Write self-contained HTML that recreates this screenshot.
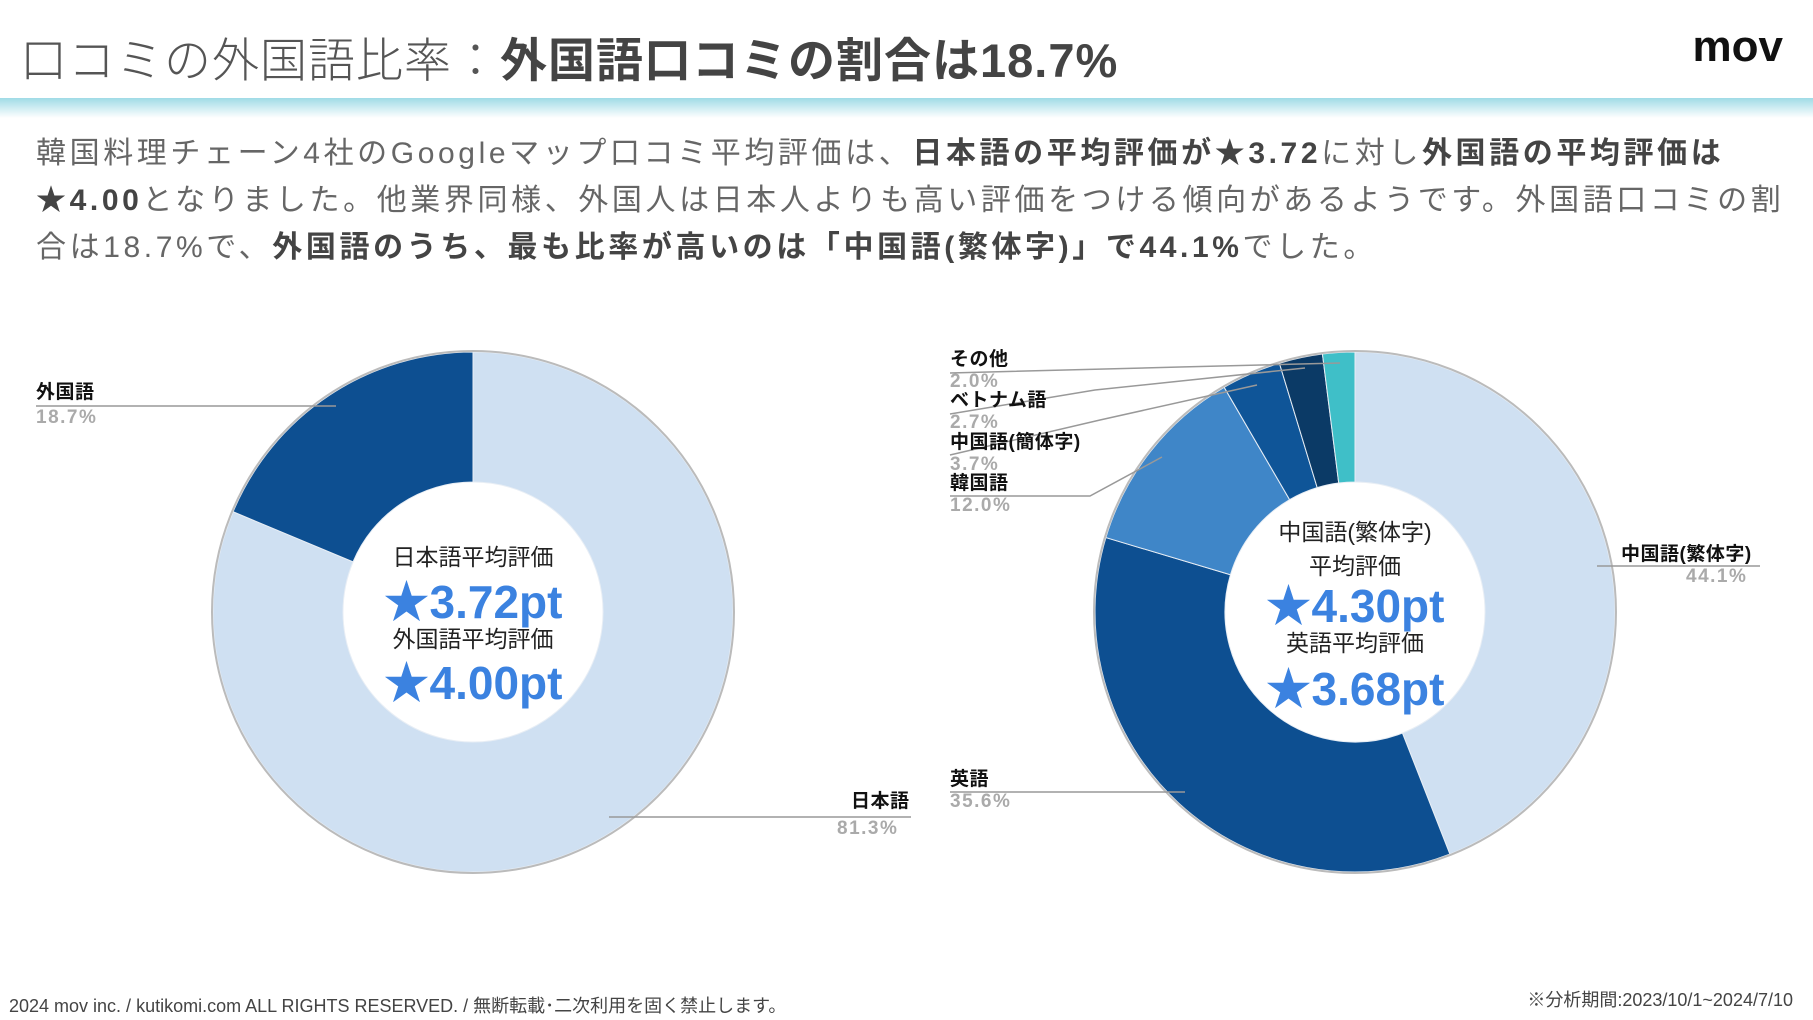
<!DOCTYPE html>
<html><head><meta charset="utf-8">
<style>
body{margin:0;width:1813px;height:1020px;background:#fff;overflow:hidden;font-family:"Liberation Sans","Noto Sans CJK JP",sans-serif;position:relative}
.abs{position:absolute;white-space:nowrap}
#title{left:20px;top:22px;font-size:47px;color:#555;font-weight:300;letter-spacing:1px}
#title b{font-weight:700;color:#444}
#logo{right:30px;top:22px;font-size:44px;font-weight:700;color:#111}
#band{left:0;top:98px;width:1813px;height:20px;background:linear-gradient(#9fdbe6,#ffffff)}
#para{left:36px;top:130px;font-size:30px;line-height:47px;color:#666;letter-spacing:3.6px}
#para b{color:#444}
.lab{font-size:19px;font-weight:700;color:#111;line-height:22px;letter-spacing:0.5px}
.pct{font-size:19px;font-weight:700;color:#aaa;line-height:22px;letter-spacing:1.5px}
.ct{font-size:23px;color:#222;text-align:center;width:300px}
.big{font-size:46px;font-weight:700;color:#3b82e0;text-align:center;width:300px}
#foot{left:9px;top:992px;font-size:18px;color:#444}
#foot2{right:20px;top:986px;font-size:18px;color:#444}
</style></head><body>
<div class="abs" id="title">口コミの外国語比率：<b>外国語口コミの割合は18.7%</b></div>
<div class="abs" id="logo">mov</div>
<div class="abs" id="band"></div>
<div class="abs" id="para">韓国料理チェーン4社のGoogleマップ口コミ平均評価は、<b>日本語の平均評価が★3.72</b>に対し<b>外国語の平均評価は</b><br><b>★4.00</b>となりました。他業界同様、外国人は日本人よりも高い評価をつける傾向があるようです。外国語口コミの割<br>合は18.7%で、<b>外国語のうち、最も比率が高いのは「中国語(繁体字)」で44.1%</b>でした。</div>

<svg id="chart" class="abs" style="left:0;top:0" width="1813" height="1020"></svg>

<div class="abs lab" style="left:36px;top:382px">外国語</div>
<div class="abs pct" style="left:36px;top:407px">18.7%</div>
<div class="abs lab" style="left:851px;top:791px">日本語</div>
<div class="abs pct" style="left:837px;top:818px">81.3%</div>

<div class="abs ct" style="left:323px;top:538px">日本語平均評価</div>
<div class="abs big" style="left:323px;top:566px">★3.72pt</div>
<div class="abs ct" style="left:323px;top:620px">外国語平均評価</div>
<div class="abs big" style="left:323px;top:647px">★4.00pt</div>

<div class="abs lab" style="left:950px;top:349px">その他</div>
<div class="abs pct" style="left:950px;top:371px">2.0%</div>
<div class="abs lab" style="left:950px;top:390px">ベトナム語</div>
<div class="abs pct" style="left:950px;top:412px">2.7%</div>
<div class="abs lab" style="left:950px;top:432px">中国語(簡体字)</div>
<div class="abs pct" style="left:950px;top:454px">3.7%</div>
<div class="abs lab" style="left:950px;top:473px">韓国語</div>
<div class="abs pct" style="left:950px;top:495px">12.0%</div>
<div class="abs lab" style="left:950px;top:769px">英語</div>
<div class="abs pct" style="left:950px;top:791px">35.6%</div>
<div class="abs lab" style="left:1621px;top:544px">中国語(繁体字)</div>
<div class="abs pct" style="left:1686px;top:566px">44.1%</div>

<div class="abs ct" style="left:1205px;top:513px">中国語(繁体字)<br>平均評価</div>
<div class="abs big" style="left:1205px;top:570px">★4.30pt</div>
<div class="abs ct" style="left:1205px;top:624px">英語平均評価</div>
<div class="abs big" style="left:1205px;top:653px">★3.68pt</div>

<div class="abs" id="foot">2024 mov inc. / kutikomi.com ALL RIGHTS RESERVED. / 無断転載･二次利用を固く禁止します。</div>
<div class="abs" id="foot2">※分析期間:2023/10/1~2024/7/10</div>

<script>
const leftCats=["日本語","外国語"];
const leftVals=[81.3,18.7];
const rightCats=["中国語(繁体字)","英語","韓国語","中国語(簡体字)","ベトナム語","その他"];
const rightVals=[44.1,35.6,12.0,3.7,2.7,2.0];
const NS="http://www.w3.org/2000/svg";
const svg=document.getElementById('chart');
function pt(cx,cy,r,a){return [cx+r*Math.sin(a),cy-r*Math.cos(a)];}
function arc(cx,cy,R,r,a0,a1){
  const lg=(a1-a0)>Math.PI?1:0;
  const p0=pt(cx,cy,R,a0),p1=pt(cx,cy,R,a1),q1=pt(cx,cy,r,a1),q0=pt(cx,cy,r,a0);
  return `M${p0}L${p0}A${R},${R} 0 ${lg} 1 ${p1}L${q1}A${r},${r} 0 ${lg} 0 ${q0}Z`;
}
function donut(cx,cy,vals,cats,colors,name){
  const tot=vals.reduce((a,b)=>a+b,0);let a=0;
  vals.forEach((v,i)=>{
    const a1=a+v/tot*2*Math.PI;
    const p=document.createElementNS(NS,'path');
    p.setAttribute('d',arc(cx,cy,260,130,a,a1));
    p.setAttribute('fill',colors[i]);p.setAttribute('stroke','#e8eef5');p.setAttribute('stroke-width','1');
    
    
    svg.appendChild(p);a=a1;
  });
  const c=document.createElementNS(NS,'circle');
  c.setAttribute('cx',cx);c.setAttribute('cy',cy);c.setAttribute('r',261);c.setAttribute('fill','none');c.setAttribute('stroke','#bbb');c.setAttribute('stroke-width','2');
  
  
  svg.appendChild(c);
}
donut(473,612,leftVals,leftCats,["#cfe0f2","#0d4f91"],'left-donut');
donut(1355,612,rightVals,rightCats,["#cfe0f2","#0d4f91","#3f86c8","#0f5598","#0b3a66","#3fbfc8"],'right-donut');
function line(pts,name){
  const l=document.createElementNS(NS,'polyline');
  l.setAttribute('points',pts);l.setAttribute('fill','none');l.setAttribute('stroke','#999');l.setAttribute('stroke-width','1.5');
  
  
  svg.appendChild(l);
}
line("36,406 336,406","leader-foreign");
line("609,817 911,817","leader-japanese");
line("950,373 1180,367 1340,363","leader-other");
line("950,414 1095,390 1305,368","leader-vietnamese");
line("950,455 1100,420 1257,385","leader-simplified");
line("950,496 1090,496 1162,457","leader-korean");
line("950,792 1185,792","leader-english");
line("1597,566 1760,566","leader-traditional");
</script>
</body></html>
